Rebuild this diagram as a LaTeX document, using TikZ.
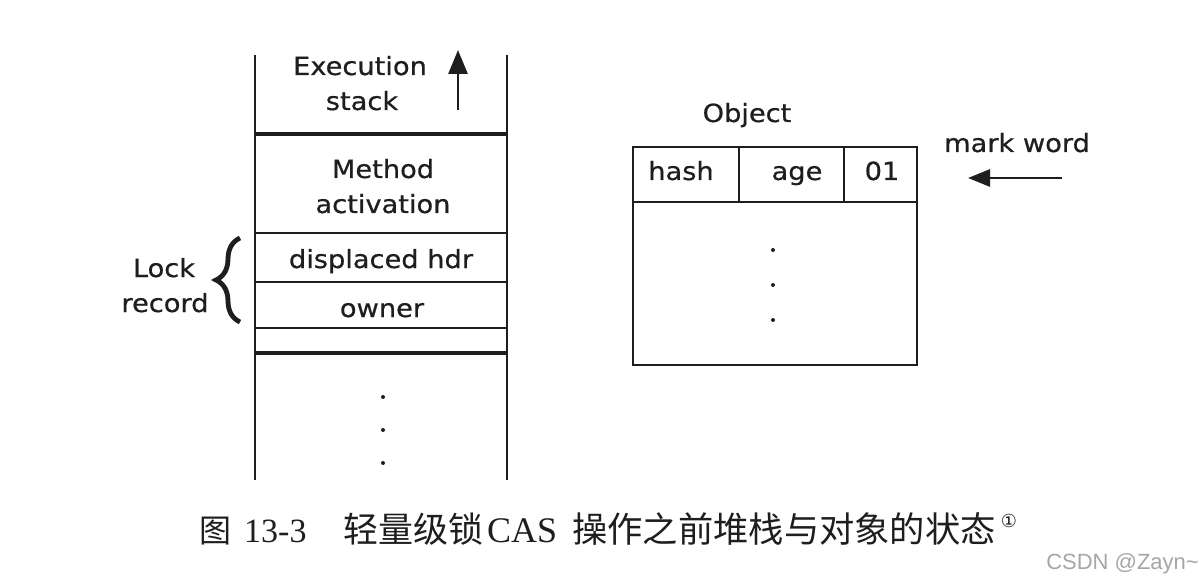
\documentclass[tikz,border=0pt]{standalone}
\usepackage{fontspec}
\setmainfont{DejaVu Sans}[FakeStretch=1.09,FakeBold=0.6]
\newfontfamily\cjk{Noto Sans CJK SC}
\newfontfamily\ser{Liberation Serif}
\newfontfamily\wm{Liberation Sans}
\newfontfamily\sym{DejaVu Sans}
\usetikzlibrary{arrows.meta,decorations.pathreplacing}
\definecolor{ink}{HTML}{1E1E1E}
\begin{document}
\begin{tikzpicture}[x=1pt,y=-1pt,
  lbl/.style={anchor=base,inner sep=0pt,text=ink,font=\fontsize{25}{30}\selectfont},
  thinln/.style={draw=ink,line width=2.4pt},
  thickln/.style={draw=ink,line width=4.5pt},
  captxt/.style={anchor=base west,inner sep=0pt,text=ink},
  dotfill/.style={fill=ink,draw=none},
  arr/.style={draw=ink,line width=2.8pt,-{Triangle[length=24pt,width=19pt]}}]
\useasboundingbox[fill=white] (0,0) rectangle (1202,580);

% ---- execution stack ----
\draw[thinln] (255,55) -- (255,480);
\draw[thinln] (507,55) -- (507,480);
\draw[thickln] (255,134) -- (507,134);
\draw[thinln] (255,233) -- (507,233);
\draw[thinln] (255,282) -- (507,282);
\draw[thinln] (255,328) -- (507,328);
\draw[thickln] (255,353) -- (507,353);

\node[lbl] (exec1) at (360,75) {Execution};
\node[lbl] (exec2) at (362,110) {stack};
\coordinate (upA) at (458,110);
\coordinate (upB) at (458,50);
\draw[arr] (upA) -- (upB);

\node[lbl] (meth1) at (383,178) {Method};
\node[lbl] (meth2) at (383,213) {activation};
\node[lbl] (disp) at (381,268) {displaced hdr};
\node[lbl] (owner) at (382,317) {owner};

\fill[dotfill] (383,397) circle (2pt);
\fill[dotfill] (383,430) circle (2pt);
\fill[dotfill] (383,463) circle (2pt);

% ---- lock record ----
\node[lbl] (lock1) at (164,277) {Lock};
\node[lbl] (lock2) at (165,312) {record};
\draw[draw=ink,line width=4.8pt,decorate,decoration={brace,amplitude=24pt,aspect=0.5}]
  (240,322) -- (240,238);

% ---- object ----
\node[lbl] (obj) at (747,122) {Object};
\draw[thinln] (633,147) rectangle (917,365);
\draw[thinln] (633,202) -- (917,202);
\draw[thinln] (739,147) -- (739,202);
\draw[thinln] (844,147) -- (844,202);
\node[lbl] (hash) at (681,180) {hash};
\node[lbl] (age) at (797,180) {age};
\node[lbl] (o1) at (882,180) {01};
\fill[dotfill] (773,250) circle (2pt);
\fill[dotfill] (773,285) circle (2pt);
\fill[dotfill] (773,320) circle (2pt);

\node[lbl] (mark) at (1017,152) {mark word};
\coordinate (mwA) at (1062,178);
\coordinate (mwB) at (968,178);
\draw[draw=ink,line width=2.8pt,-{Triangle[length=22pt,width=17pt]}] (mwA) -- (mwB);

% ---- caption ----
\node[captxt,font=\cjk\fontsize{32}{34}\selectfont] (c1) at (199,542) {图};
\node[captxt,font=\ser\fontsize{34}{38}\selectfont] (c2) at (244,542) {13-3};
\node[captxt,font=\cjk\fontsize{35}{36}\selectfont] (c3) at (343,542) {轻量级锁};
\node[captxt,font=\ser\fontsize{36}{40}\selectfont] (c4) at (487,542) {CAS};
\node[captxt,font=\cjk\fontsize{35.3}{36}\selectfont] (c5) at (572,542) {操作之前堆栈与对象的状态};
\node[anchor=center,inner sep=0pt,text=ink,font=\sym\fontsize{18}{20}\selectfont] (c6) at (1009,521) {①};

% ---- watermark ----
\node[anchor=base east,inner sep=0pt,text=black!35,font=\wm\fontsize{22}{24}\selectfont] (wm) at (1199,569) {CSDN @Zayn\textasciitilde};
\end{tikzpicture}
\end{document}
